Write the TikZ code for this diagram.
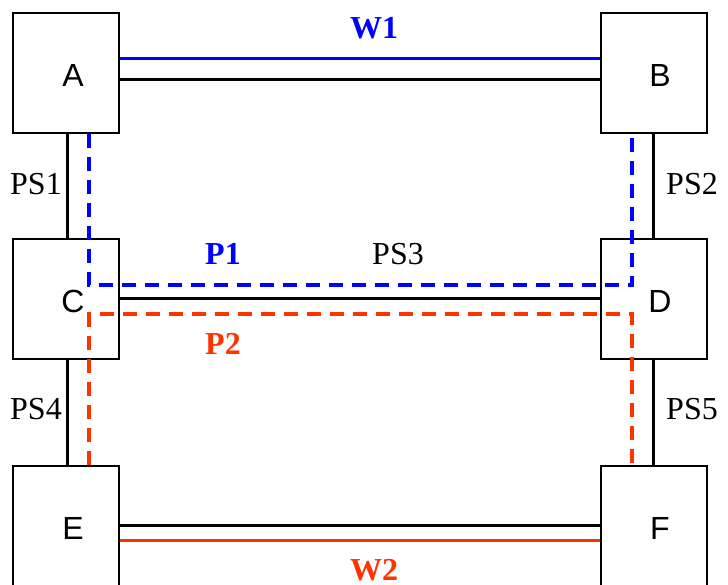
\documentclass[tikz,border=0pt]{standalone}
\usepackage{fontspec}
\setmainfont{Liberation Serif}
\newfontfamily\boxfont{Liberation Sans}
\usetikzlibrary{positioning}
\definecolor{workblue}{RGB}{0,0,255}
\definecolor{protred}{RGB}{255,51,0}

\begin{document}
\begin{tikzpicture}[
  x=0.5pt, y=-0.5pt,
  switch/.style={rectangle, draw=black, line width=1pt, minimum width=53pt, minimum height=60pt, inner sep=0pt},
  swlabel/.style={font=\boxfont\fontsize{16}{19}\selectfont},
  link/.style={draw=black, line width=1.5pt},
  working/.style={line width=1.5pt},
  protect/.style={line width=2pt, dash pattern=on 7pt off 4.5pt},
  tag/.style={font=\fontsize{16}{19}\selectfont, inner sep=0pt},
  bigtag/.style={font=\bfseries\fontsize{16}{19}\selectfont, inner sep=0pt},
]
\useasboundingbox (0,0) rectangle (728,584);

% Switches
\node[switch, label={[swlabel, xshift=3.5pt, yshift=-1.5pt]center:A}] (A) at (66,72.5) {};
\node[switch, label={[swlabel, xshift=3pt, yshift=-1.5pt]center:B}] (B) at (654,72.5) {};
\node[switch, label={[swlabel, xshift=3.5pt, yshift=-1.5pt]center:C}] (C) at (66,298.5) {};
\node[switch, label={[swlabel, xshift=3pt, yshift=-1.5pt]center:D}] (D) at (654,298.5) {};
\node[switch, label={[swlabel, xshift=3.5pt, yshift=-1.5pt]center:E}] (E) at (66,525.5) {};
\node[switch, label={[swlabel, xshift=3pt, yshift=-1.5pt]center:F}] (F) at (654,525.5) {};

% Physical spans
\draw[link] ([yshift=-3.25pt]A.east) -- ([yshift=-3.25pt]B.west);
\draw[link] ([xshift=0.5pt]A.south) -- ([xshift=0.5pt]C.north);
\draw[link] ([xshift=-0.5pt]B.south) -- ([xshift=-0.5pt]D.north);
\draw[link] (C.east) -- (D.west);
\draw[link] ([xshift=0.5pt]C.south) -- ([xshift=0.5pt]E.north);
\draw[link] ([xshift=-0.5pt]D.south) -- ([xshift=-0.5pt]F.north);
\draw[link] (E.east) -- (F.west);

% Working paths
\draw[working, workblue] ([yshift=7.25pt]A.east) -- ([yshift=7.25pt]B.west);
\draw[working, protred] ([yshift=-7.25pt]E.east) -- ([yshift=-7.25pt]F.west);

% Protection paths
\coordinate (p1c) at (89,285);
\coordinate (p1d) at (632,285);
\coordinate (p2c) at (89,314);
\coordinate (p2d) at (632,314);
\draw[protect, workblue] ([xshift=11.5pt]A.south) -- (p1c) -- (p1d) -- ([xshift=-11pt]B.south);
\draw[protect, protred] ([xshift=11.5pt]E.north) -- (p2c) -- (p2d) -- ([xshift=-11pt]F.north);

% Labels
\node[bigtag, workblue] (w1) at (374,28) {W1};
\node[bigtag, protred] (w2) at (374,570) {W2};
\node[bigtag, workblue] (p1) at (223,254) {P1};
\node[bigtag, protred] (p2) at (223,344) {P2};
\node[tag] (ps1) at (36,184) {PS1};
\node[tag] (ps2) at (692,184) {PS2};
\node[tag] (ps3) at (398,254) {PS3};
\node[tag] (ps4) at (36,409) {PS4};
\node[tag] (ps5) at (692,409) {PS5};

\end{tikzpicture}
\end{document}
